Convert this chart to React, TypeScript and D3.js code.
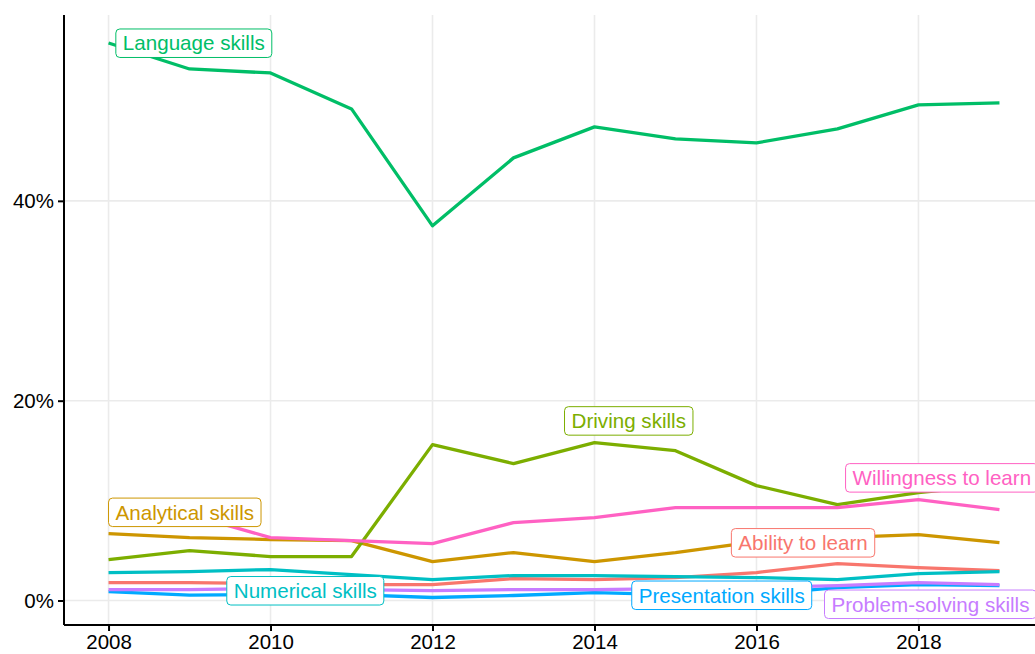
import React, { useEffect, useRef } from "react";
import * as d3 from "d3";

const years = [2008, 2009, 2010, 2011, 2012, 2013, 2014, 2015, 2016, 2017, 2018, 2019];

// share of job ads mentioning each skill (%)
const abilityToLearn = [1.8, 1.8, 1.7, 1.6, 1.6, 2.2, 2.1, 2.3, 2.8, 3.7, 3.3, 3.0];
const analyticalSkills = [6.7, 6.3, 6.1, 6.0, 3.9, 4.8, 3.9, 4.8, 5.9, 6.3, 6.6, 5.8];
const drivingSkills = [4.1, 5.0, 4.4, 4.4, 15.6, 13.7, 15.8, 15.0, 11.5, 9.6, 10.8, 11.6];
const languageSkills = [55.8, 53.2, 52.8, 49.2, 37.5, 44.3, 47.4, 46.2, 45.8, 47.2, 49.6, 49.8];
const numericalSkills = [2.8, 2.9, 3.1, 2.6, 2.1, 2.5, 2.5, 2.4, 2.3, 2.1, 2.7, 2.9];
const presentationSkills = [0.9, 0.55, 0.6, 0.6, 0.3, 0.5, 0.8, 0.6, 0.6, 1.3, 1.6, 1.5];
const problemSolvingSkills = [1.1, 1.1, 1.2, 1.1, 1.0, 1.1, 1.1, 1.2, 1.3, 1.5, 1.8, 1.6];
const willingnessToLearn = [8.9, 8.6, 6.3, 6.0, 5.7, 7.8, 8.3, 9.3, 9.3, 9.3, 10.1, 9.1];

const seriesNames = [
  "Ability to learn",
  "Analytical skills",
  "Driving skills",
  "Language skills",
  "Numerical skills",
  "Presentation skills",
  "Problem-solving skills",
  "Willingness to learn",
];
const seriesValues = [
  abilityToLearn,
  analyticalSkills,
  drivingSkills,
  languageSkills,
  numericalSkills,
  presentationSkills,
  problemSolvingSkills,
  willingnessToLearn,
];
const seriesColors = ["#F8766D", "#CD9600", "#7CAE00", "#00BE67", "#00BFC4", "#00A9FF", "#C77CFF", "#FF61C3"];

// repelled label anchors in data units: left edge year, vertical centre value
const labelYears = [2015.69, 2008.0, 2013.63, 2008.09, 2009.46, 2014.46, 2016.84, 2017.1];
const labelValues = [5.8, 8.85, 18.0, 55.8, 1.0, 0.55, -0.35, 12.3];

const xTicks = [2008, 2010, 2012, 2014, 2016, 2018];
const yTicks = [0, 20, 40];

const FONT = "'Liberation Sans', Arial, Helvetica, sans-serif";

const App: React.FC = () => {
  const svgRef = useRef<SVGSVGElement | null>(null);

  useEffect(() => {
    const width = 1035;
    const height = 654;
    const panel = { left: 64, right: 1044, top: 15, bottom: 625 };

    const svg = d3.select(svgRef.current);
    svg.selectAll("*").remove();

    const x = d3.scaleLinear().domain([2007.45, 2019.55]).range([panel.left, panel.right]);
    const y = d3.scaleLinear().domain([-2.45, 58.6]).range([panel.bottom, panel.top]);

    svg.attr("width", width).attr("height", height);
    svg.append("rect").attr("width", width).attr("height", height).attr("fill", "white");

    // grid
    const grid = svg.append("g");
    grid.selectAll(".vg")
      .data(xTicks)
      .enter()
      .append("line")
      .attr("x1", (d) => x(d))
      .attr("x2", (d) => x(d))
      .attr("y1", panel.top)
      .attr("y2", panel.bottom)
      .attr("stroke", "#EBEBEB")
      .attr("stroke-width", 1.6);
    grid.selectAll(".hg")
      .data(yTicks)
      .enter()
      .append("line")
      .attr("x1", panel.left)
      .attr("x2", width)
      .attr("y1", (d) => y(d))
      .attr("y2", (d) => y(d))
      .attr("stroke", "#EBEBEB")
      .attr("stroke-width", 1.6);

    // lines
    const line = d3.line<number>()
      .x((_, i) => x(years[i]))
      .y((d) => y(d));

    svg.append("g")
      .selectAll("path")
      .data(seriesValues)
      .enter()
      .append("path")
      .attr("d", (d) => line(d))
      .attr("fill", "none")
      .attr("stroke", (_, i) => seriesColors[i])
      .attr("stroke-width", 3.3)
      .attr("stroke-linejoin", "round");

    // axes
    const xAxis = svg.append("g")
      .attr("transform", `translate(0,${panel.bottom})`)
      .call(d3.axisBottom(x).tickValues(xTicks).tickFormat(d3.format("d")).tickSize(6).tickPadding(3) as any);
    const yAxis = svg.append("g")
      .attr("transform", `translate(${panel.left},0)`)
      .call(d3.axisLeft(y).tickValues(yTicks).tickFormat((d) => `${d}%`).tickSize(6).tickPadding(4) as any);

    [xAxis, yAxis].forEach((ax) => {
      ax.select(".domain").attr("stroke", "black").attr("stroke-width", 2);
      ax.selectAll(".tick line").attr("stroke", "black").attr("stroke-width", 2);
      ax.selectAll("text").attr("fill", "black").style("font-size", "20.5px").style("font-family", FONT);
    });
    xAxis.select(".domain").attr("d", `M${panel.left},0H${width}`);
    yAxis.select(".domain").attr("d", `M0,${panel.top}V${panel.bottom}`);

    // labels
    const labels = svg.append("g");
    seriesNames.forEach((name, i) => {
      const g = labels.append("g")
        .attr("transform", `translate(${x(labelYears[i])},${y(labelValues[i])})`);
      const rect = g.append("rect");
      const text = g.append("text")
        .attr("x", 7)
        .attr("y", 7.5)
        .attr("fill", seriesColors[i])
        .style("font-size", "20.6px")
        .style("font-family", FONT)
        .text(name);
      const w = (text.node() as SVGTextElement).getComputedTextLength() + 14;
      rect
        .attr("x", 0)
        .attr("y", -14)
        .attr("width", w)
        .attr("height", 28.5)
        .attr("rx", 4)
        .attr("fill", "white")
        .attr("stroke", seriesColors[i])
        .attr("stroke-width", 1);
    });
  }, []);

  return (
    <svg
      ref={svgRef}
      width={1035}
      height={654}
      style={{ position: "absolute", top: 0, left: 0, display: "block" }}
    />
  );
};

export default App;
